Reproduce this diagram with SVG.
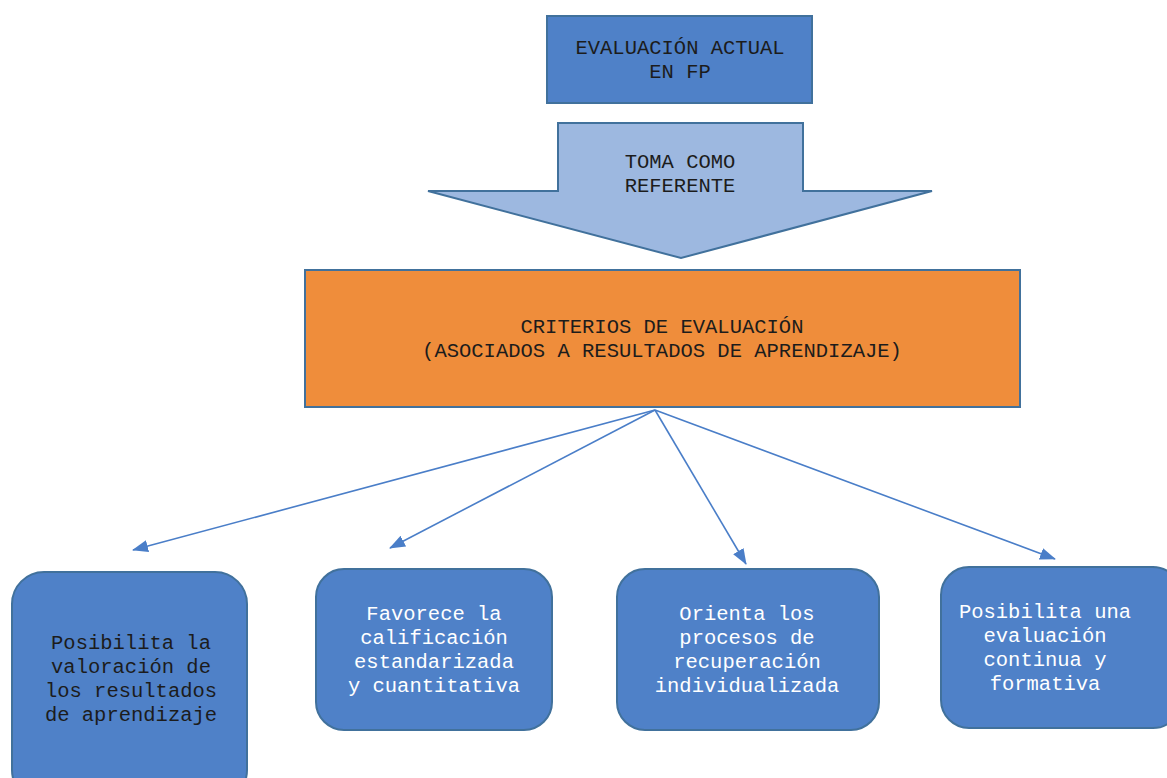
<svg xmlns="http://www.w3.org/2000/svg" width="1167" height="778" viewBox="0 0 1167 778">
<defs>
<style>
.box{fill:#4F81C8;stroke:#41719C;stroke-width:2}
.t{font-family:"Liberation Mono","Courier New",monospace;font-size:20.5px;text-anchor:middle}
.dk{fill:#1c1c1c}
.wh{fill:#ffffff}
.con{stroke:#4A7EC8;stroke-width:1.6;fill:none}
</style>
<marker id="ah" viewBox="0 0 16 12" refX="15" refY="6" markerWidth="16" markerHeight="12" markerUnits="userSpaceOnUse" orient="auto">
<path d="M0,0 L16,6 L0,12 Z" fill="#4A7EC8"/>
</marker>
</defs>
<rect width="1167" height="778" fill="#ffffff"/>
<g id="evaluacion">
<rect class="box" x="547" y="16" width="265" height="87"/>
<text class="t dk" x="680" y="54">EVALUACIÓN ACTUAL</text>
<text class="t dk" x="680" y="78">EN FP</text>
</g>
<g id="toma">
<path d="M558,123 L803,123 L803,191 L932,191 L681,258 L428,191 L558,191 Z" fill="#9DB8E0" stroke="#41719C" stroke-width="2"/>
<text class="t dk" x="680" y="168">TOMA COMO</text>
<text class="t dk" x="680" y="192">REFERENTE</text>
</g>
<g id="criterios">
<rect x="305" y="270" width="715" height="137" fill="#EF8D3B" stroke="#41719C" stroke-width="2"/>
<text class="t dk" x="662" y="333">CRITERIOS DE EVALUACIÓN</text>
<text class="t dk" x="662" y="357">(ASOCIADOS A RESULTADOS DE APRENDIZAJE)</text>
</g>
<g id="connectors">
<line class="con" x1="655" y1="410" x2="133" y2="550" marker-end="url(#ah)"/>
<line class="con" x1="655" y1="410" x2="390" y2="548" marker-end="url(#ah)"/>
<line class="con" x1="655" y1="410" x2="746" y2="564" marker-end="url(#ah)"/>
<line class="con" x1="655" y1="410" x2="1055" y2="559" marker-end="url(#ah)"/>
</g>
<g id="valoracion">
<rect class="box" x="12" y="572" width="235" height="230" rx="32"/>
<text class="t dk" x="131" y="649">Posibilita la</text>
<text class="t dk" x="131" y="673">valoración de</text>
<text class="t dk" x="131" y="697">los resultados</text>
<text class="t dk" x="131" y="721">de aprendizaje</text>
</g>
<g id="calificacion">
<rect class="box" x="316" y="569" width="236" height="161" rx="28"/>
<text class="t wh" x="434" y="620">Favorece la</text>
<text class="t wh" x="434" y="644">calificación</text>
<text class="t wh" x="434" y="668">estandarizada</text>
<text class="t wh" x="434" y="692">y cuantitativa</text>
</g>
<g id="recuperacion">
<rect class="box" x="617" y="569" width="262" height="161" rx="28"/>
<text class="t wh" x="747" y="620">Orienta los</text>
<text class="t wh" x="747" y="644">procesos de</text>
<text class="t wh" x="747" y="668">recuperación</text>
<text class="t wh" x="747" y="692">individualizada</text>
</g>
<g id="continua">
<rect class="box" x="941" y="567" width="240" height="161" rx="28"/>
<text class="t wh" x="1045" y="618">Posibilita una</text>
<text class="t wh" x="1045" y="642">evaluación</text>
<text class="t wh" x="1045" y="666">continua y</text>
<text class="t wh" x="1045" y="690">formativa</text>
</g>
</svg>
